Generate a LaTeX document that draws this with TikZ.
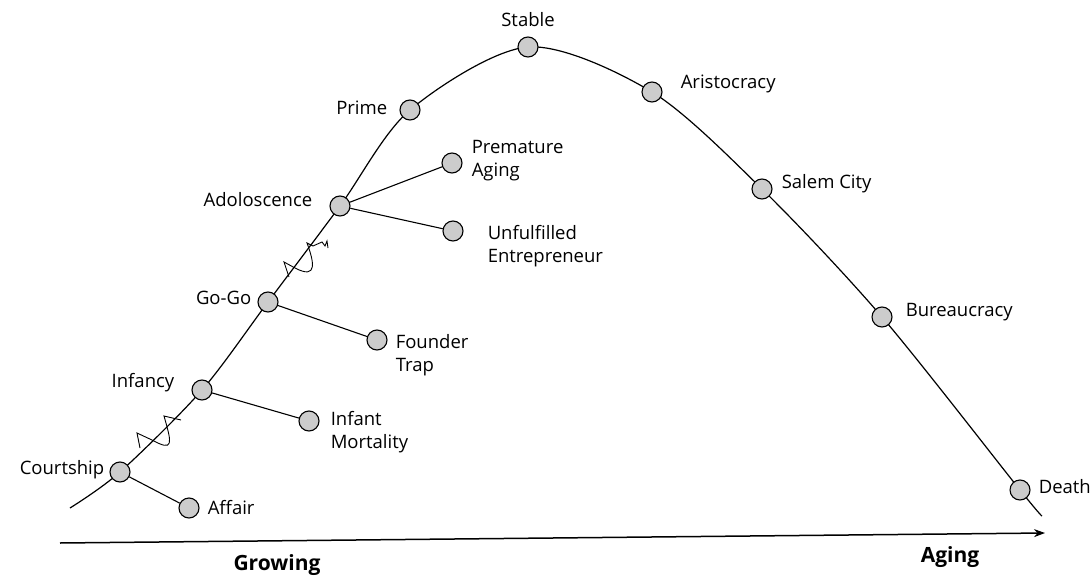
\documentclass[tikz,border=0pt]{standalone}
\usepackage{fontspec}
\setmainfont{Open Sans}
\usetikzlibrary{positioning,backgrounds,arrows.meta}
\tikzset{
  stage/.style={circle, draw, fill=black!20, line width=1.1pt, minimum size=20pt, inner sep=0pt},
  lbl/.style={inner sep=0pt, font=\fontsize{18.5}{23}\selectfont, align=left},
  axislbl/.style={inner sep=0pt, font=\fontsize{21}{24}\selectfont\bfseries},
  branch/.style={line width=1.1pt},
}
\begin{document}
\begin{tikzpicture}[x=1pt,y=-1pt]
\useasboundingbox (0,0) rectangle (1092,578);
% stages on the curve
\node[stage] (court) at (120,472) {};
\node[stage] (inf) at (202,390) {};
\node[stage] (gogo) at (268,302) {};
\node[stage] (adol) at (340,206) {};
\node[stage] (prime) at (410,110) {};
\node[stage] (stable) at (528,47) {};
\node[stage] (arist) at (652,92) {};
\node[stage] (salem) at (762,189) {};
\node[stage] (bureau) at (882,317) {};
\node[stage] (death) at (1020,490) {};
% traps
\node[stage] (affair) at (189,508) {};
\node[stage] (mort) at (309,421) {};
\node[stage] (founder) at (377,340) {};
\node[stage] (premat) at (452,163) {};
\node[stage] (unful) at (453,231) {};
% labels
\node[lbl, left=5pt of court, yshift=2pt] (courtl) {Courtship};
\node[lbl, right=8pt of affair] (affairl) {Affair};
\node[lbl, left=17pt of inf, yshift=7pt] (infl) {Infancy};
\node[lbl, right=11pt of mort, yshift=-11pt] (mortl) {Infant\\Mortality};
\node[lbl, left=6pt of gogo, yshift=4pt] (gogol) {Go-Go};
\node[lbl, right=8pt of founder, yshift=-15pt] (founderl) {Founder\\Trap};
\node[lbl, left=17pt of adol, yshift=6pt] (adoll) {Adoloscence};
\node[lbl, right=9pt of premat, yshift=2pt] (prematl) {Premature\\Aging};
\node[lbl, right=24pt of unful, yshift=-15pt] (unfull) {Unfulfilled\\Entrepreneur};
\node[lbl, left=12pt of prime, yshift=2pt] (primel) {Prime};
\node[lbl, above=10pt of stable] (stablel) {Stable};
\node[lbl, right=18pt of arist, yshift=8pt] (aristl) {Aristocracy};
\node[lbl, right=9pt of salem, yshift=5pt] (saleml) {Salem City};
\node[lbl, right=13pt of bureau, yshift=5pt] (bureaul) {Bureaucracy};
\node[lbl, right=8pt of death, yshift=3pt] (deathl) {Death};
% life curve
\coordinate (cstart) at (70,508);
\coordinate (cend) at (1042,516);
\begin{scope}[on background layer]
\draw[line width=1.2pt] plot[smooth, tension=0.5] coordinates {(cstart) (court) (inf) (gogo) (adol) (prime) (stable) (arist) (salem) (bureau) (death) (cend)};
\end{scope}
% trap branches
\draw[branch] (court) -- (affair);
\draw[branch] (inf) -- (mort);
\draw[branch] (gogo) -- (founder);
\draw[branch] (adol) -- (premat);
\draw[branch] (adol) -- (unful);
% squiggles
\draw[line width=0.9pt] (140,448) -- (137,433) -- (152,440) .. controls (174,452) and (172,444) .. (164,416) -- (181,420);
\draw[line width=0.9pt] (289,277) -- (284,262) -- (295,268) .. controls (318,280) and (314,262) .. (307,243) -- (313,246) -- (322,242) -- (325,246) -- (327,241) -- (328,248);
% time axis
\coordinate (tstart) at (60,543);
\coordinate (tend) at (1045,533);
\draw[line width=1.5pt, -{Stealth[length=11pt,width=8pt]}] (tstart) -- (tend);
\node[axislbl] (grow) at (277,565) {Growing};
\node[axislbl] (aging) at (950,557) {Aging};
\end{tikzpicture}
\end{document}
